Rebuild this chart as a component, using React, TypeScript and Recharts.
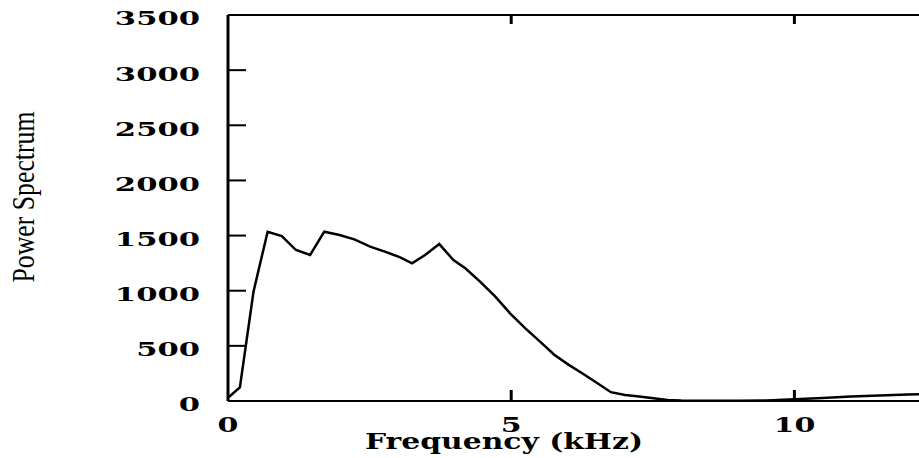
import React from 'react';
import { LineChart, Line, XAxis, YAxis } from 'recharts';

const freqKHz = [0, 0.21, 0.45, 0.7, 0.95, 1.2, 1.45, 1.7, 1.97, 2.23, 2.51, 2.77, 3.04, 3.25, 3.48, 3.73, 3.98, 4.19, 4.45, 4.72, 4.98, 5.25, 5.51, 5.76, 6.01, 6.26, 6.51, 6.76, 7.01, 7.26, 7.51, 7.76, 8.0, 8.5, 9.0, 9.5, 10.0, 10.5, 11.0, 11.5, 12.0, 12.2];
const power = [30, 124, 991, 1535, 1496, 1369, 1324, 1535, 1505, 1466, 1399, 1354, 1303, 1248, 1324, 1423, 1278, 1203, 1082, 946, 795, 659, 538, 420, 330, 250, 165, 80, 55, 40, 24, 10, 5, 3, 3, 5, 15, 28, 40, 50, 60, 62];

const xTicks = [0, 5, 10];
const topTicks = [5, 10];
const yTicks = [0, 500, 1000, 1500, 2000, 2500, 3000, 3500];
const xTitle = 'Frequency (kHz)';
const yTitle = 'Power Spectrum';

const data = freqKHz.map((f, i) => ({ f, p: power[i] }));

const Y_TICK_LEN = 18;
const Y_TICK_MARGIN = 46;
const X_TICK_LEN = 11;
const X_TICK_MARGIN = 35;
const TOP_TICK_LEN = 9;

const YTick = (props: any) => {
  const x = Number(props.x);
  const y = Number(props.y);
  const v = props.payload.value;
  const axisX = x + Y_TICK_MARGIN - Y_TICK_LEN;
  return (
    <g>
      {v !== 0 && v !== 3500 && (
        <rect x={axisX} y={y - 1} width={Y_TICK_LEN} height={2} fill="#000" />
      )}
      <g transform={`translate(${x} ${y + 4}) scale(1.7 1)`}>
        <text x={0} y={0} dy="0.36em" textAnchor="end" fontFamily="DejaVu Serif" fontWeight="bold" fontSize={18} fill="#000">
          {v}
        </text>
      </g>
    </g>
  );
};

const XTick = (props: any) => {
  const x = Number(props.x);
  const y = Number(props.y);
  const v = props.payload.value;
  const axisY = y - X_TICK_MARGIN + X_TICK_LEN;
  return (
    <g>
      {v !== 0 && (
        <rect x={x - 1.5} y={axisY - X_TICK_LEN} width={3} height={X_TICK_LEN} fill="#000" />
      )}
      <g transform={`translate(${x} ${y}) scale(1.5 1)`}>
        <text x={0} y={0} dy="0.36em" textAnchor="middle" fontFamily="DejaVu Serif" fontWeight="bold" fontSize={20} fill="#000">
          {v}
        </text>
      </g>
    </g>
  );
};

const TopTick = (props: any) => {
  const x = Number(props.x);
  const y = Number(props.y);
  return <rect x={x - 1.5} y={y - TOP_TICK_LEN} width={3} height={TOP_TICK_LEN} fill="#000" />;
};

export default function App() {
  return (
    <div style={{ position: 'absolute', left: 0, top: 0, width: 919, height: 458, background: '#fff' }}>
      <LineChart width={919} height={458} data={data} margin={{ top: 14, right: 0, bottom: 17, left: 168 }}>
        <XAxis
          xAxisId="bottom"
          dataKey="f"
          type="number"
          domain={[0, 12.2]}
          ticks={xTicks}
          allowDataOverflow
          height={40}
          axisLine={{ stroke: '#000', strokeWidth: 2 }}
          tickLine={false}
          tickSize={-X_TICK_LEN}
          tickMargin={X_TICK_MARGIN}
          tick={<XTick />}
        />
        <XAxis
          xAxisId="top"
          orientation="top"
          dataKey="f"
          type="number"
          domain={[0, 12.2]}
          ticks={topTicks}
          allowDataOverflow
          height={1}
          axisLine={{ stroke: '#000', strokeWidth: 2 }}
          tickLine={false}
          tickSize={-TOP_TICK_LEN}
          tickMargin={0}
          tick={<TopTick />}
        />
        <YAxis
          dataKey="p"
          type="number"
          domain={[0, 3500]}
          ticks={yTicks}
          width={60}
          axisLine={{ stroke: '#000', strokeWidth: 3 }}
          tickLine={false}
          tickSize={-Y_TICK_LEN}
          tickMargin={Y_TICK_MARGIN}
          tick={<YTick />}
        />
        <Line
          xAxisId="bottom"
          dataKey="p"
          type="linear"
          stroke="#000"
          strokeWidth={2.5}
          dot={false}
          isAnimationActive={false}
        />
      </LineChart>
      <svg width={919} height={458} style={{ position: 'absolute', left: 0, top: 0, pointerEvents: 'none' }}>
        <text x={504} y={449} textAnchor="middle" fontFamily="DejaVu Serif" fontWeight="bold" fontSize={22} textLength={278} lengthAdjust="spacingAndGlyphs" fill="#000">
          {xTitle}
        </text>
        <text x={0} y={0} transform="translate(34 197) rotate(-90)" textAnchor="middle" fontFamily="Liberation Serif" fontSize={32} textLength={171} lengthAdjust="spacingAndGlyphs" fill="#000">
          {yTitle}
        </text>
      </svg>
    </div>
  );
}
